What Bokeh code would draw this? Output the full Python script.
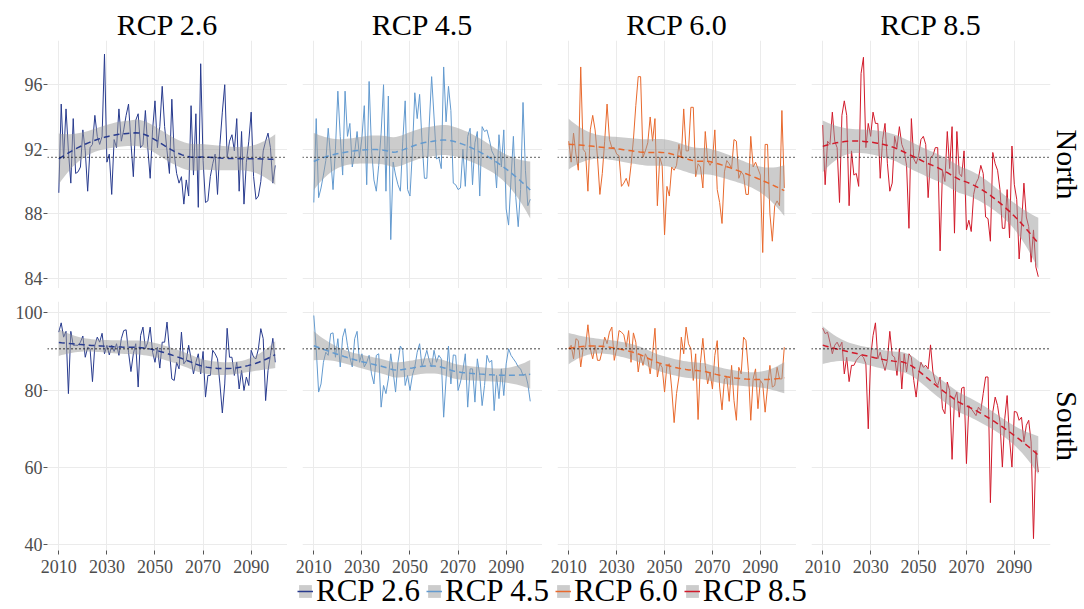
import numpy as np
from bokeh.plotting import figure
from bokeh.layouts import column, row
from bokeh.models import Range1d, FixedTicker, Title, Legend, LegendItem, Span
from bokeh.embed import file_html
from bokeh.resources import INLINE

FONT = "Liberation Serif"

# ---------------- data ----------------
years = list(range(2010, 2101))
scenarios = ["RCP 2.6", "RCP 4.5", "RCP 6.0", "RCP 8.5"]
colors = ["#283B8E", "#639ACF", "#E8692D", "#D11A2A"]
regions = ["North", "South"]
reference_levels = [91.5, 90.7]
x_ticks = [2010, 2030, 2050, 2070, 2090]
y_ticks_north = [84, 88, 92, 96]
y_ticks_south = [40, 60, 80, 100]

north_26 = [89.3, 94.8, 91.4, 94.5, 91.9, 89.9, 93.9, 90.5, 90.6, 90.9,
            93.2, 91.9, 89.4, 92.1, 92.3, 94.1, 92.8, 92.3, 92.8, 97.9,
            91.2, 91.7, 89.2, 92.6, 92.1, 94.5, 92.5, 93.2, 94.1, 94.8,
            92.4, 90.3, 93.8, 94.2, 92.1, 92.3, 94.4, 92.1, 90.2, 93.2,
            95.0, 92.1, 93.4, 95.9, 93.4, 91.9, 90.5, 95.1, 91.7, 90.5,
            89.9, 90.3, 88.6, 90.1, 89.1, 94.7, 90.4, 94.2, 88.4, 97.3,
            91.3, 88.7, 88.8, 90.3, 91.1, 91.7, 89.2, 92.3, 94.3, 96.0,
            91.5, 92.5, 92.9, 91.9, 93.9, 89.4, 93.1, 88.6, 91.2, 92.5,
            94.3, 90.3, 88.9, 89.1, 90.0, 91.9, 92.5, 93.0, 92.1, 89.9,
            91.0]
north_45 = [88.7, 93.9, 89.0, 89.6, 90.4, 91.3, 93.3, 91.5, 89.5, 92.0,
            95.6, 92.8, 90.4, 95.6, 92.8, 93.6, 90.9, 91.8, 93.1, 91.5,
            92.7, 94.7, 89.8, 96.2, 92.0, 90.1, 89.4, 91.0, 93.0, 96.0,
            89.4, 95.3, 86.4, 91.2, 90.4, 89.8, 89.4, 92.5, 95.0, 89.5,
            89.1, 91.9, 95.5, 93.9, 95.4, 92.5, 90.2, 90.2, 93.5, 96.5,
            94.0, 91.4, 91.5, 90.8, 97.1, 93.7, 95.9, 94.4, 89.9, 89.8,
            89.5, 89.6, 92.0, 89.7, 92.8, 93.3, 89.8, 92.4, 93.1, 89.1,
            93.4, 93.1, 93.2, 92.6, 91.9, 91.6, 89.6, 92.9, 90.9, 93.2,
            88.3, 87.3, 90.1, 92.8, 89.0, 87.2, 89.5, 94.9, 90.7, 88.5,
            88.9]
north_60 = [92.5, 91.2, 93.0, 91.7, 90.7, 97.1, 92.0, 91.8, 89.4, 93.2,
            94.1, 93.2, 91.5, 89.2, 90.5, 92.5, 94.8, 92.6, 92.1, 92.1,
            91.7, 91.6, 89.7, 89.9, 90.2, 89.7, 91.0, 92.6, 94.7, 96.5,
            96.5, 91.5, 91.9, 92.4, 94.0, 92.5, 93.9, 88.5, 91.5, 91.0,
            86.7, 89.7, 89.1, 90.9, 90.7, 91.0, 92.3, 91.5, 94.5, 91.9,
            91.9, 94.6, 94.6, 90.3, 91.1, 90.9, 89.6, 93.1, 91.3, 91.0,
            91.3, 93.2, 89.5, 88.7, 87.4, 90.6, 91.3, 91.1, 90.8, 92.6,
            92.5, 90.2, 90.6, 90.4, 89.2, 89.2, 92.8, 90.9, 91.2, 90.8,
            90.4, 85.6, 92.3, 92.3, 88.0, 86.3, 88.5, 88.8, 88.5, 94.4,
            89.6]
north_85 = [93.5, 89.8, 92.5, 92.3, 94.3, 92.5, 92.1, 88.7, 94.1, 95.0,
            94.1, 88.5, 91.9, 90.4, 90.5, 89.7, 96.7, 97.7, 92.1, 93.6,
            92.8, 94.3, 93.6, 93.6, 90.2, 92.6, 93.6, 91.1, 89.4, 89.9,
            92.8, 92.1, 93.4, 92.3, 91.9, 91.0, 87.1, 93.9, 91.4, 91.1,
            91.6, 92.6, 92.8, 92.3, 89.0, 91.5, 91.6, 92.1, 92.1, 85.7,
            90.7, 90.0, 93.1, 90.8, 93.4, 86.8, 93.1, 90.5, 90.3, 91.9,
            87.0, 87.6, 86.9, 89.2, 89.9, 90.2, 91.0, 90.5, 87.8, 87.7,
            86.3, 91.8, 91.1, 90.7, 89.5, 87.1, 87.1, 89.5, 86.5, 92.2,
            89.8, 88.9, 85.2, 87.3, 89.9, 87.8, 87.2, 85.0, 87.0, 84.7,
            84.1]
south_26 = [95.0, 97.4, 93.7, 95.2, 79.1, 95.2, 91.6, 91.6, 91.6, 92.4,
            94.0, 88.5, 91.1, 90.7, 82.2, 91.6, 93.7, 92.4, 94.7, 89.4,
            91.6, 89.1, 91.6, 90.0, 92.0, 89.0, 93.3, 95.4, 95.6, 89.8,
            84.8, 89.4, 92.0, 80.8, 94.1, 96.3, 90.7, 92.4, 96.3, 89.8,
            87.2, 91.1, 85.7, 92.4, 92.4, 97.6, 90.3, 82.9, 82.5, 87.2,
            85.5, 95.0, 86.8, 87.7, 91.6, 88.1, 84.2, 87.2, 89.4, 84.2,
            90.0, 78.2, 83.8, 83.8, 90.3, 89.4, 88.1, 81.6, 74.1, 81.6,
            96.0, 88.5, 88.5, 83.8, 87.2, 80.3, 85.1, 79.9, 83.4, 81.2,
            90.3, 88.5, 88.1, 90.7, 95.9, 93.3, 77.3, 85.1, 89.0, 93.4,
            87.2]
south_45 = [99.3, 90.7, 79.5, 81.6, 87.2, 89.8, 89.0, 94.6, 94.8, 88.5,
            93.3, 86.0, 93.7, 95.9, 91.6, 88.5, 86.0, 93.3, 95.2, 87.2,
            89.4, 86.0, 87.2, 89.0, 84.2, 81.6, 89.0, 89.4, 75.6, 81.2,
            79.1, 82.9, 89.4, 84.7, 79.5, 87.2, 91.4, 90.3, 81.2, 83.8,
            79.9, 83.8, 86.0, 89.8, 92.0, 86.0, 88.1, 90.3, 87.7, 86.0,
            90.3, 87.2, 89.0, 88.1, 73.0, 82.9, 91.4, 81.6, 89.1, 89.0,
            79.9, 82.1, 85.1, 89.4, 75.6, 85.5, 85.5, 76.9, 88.1, 83.8,
            76.0, 81.2, 89.0, 87.2, 87.7, 74.7, 83.8, 77.8, 85.5, 78.6,
            86.8, 90.7, 89.0, 88.1, 87.2, 86.0, 85.5, 83.8, 84.2, 81.6,
            77.1]
south_60 = [90.7, 91.6, 88.1, 93.3, 92.8, 86.0, 90.7, 91.1, 96.9, 90.7,
            88.1, 91.6, 87.7, 87.7, 90.3, 93.7, 92.0, 95.0, 96.3, 87.7,
            90.7, 95.4, 95.0, 94.3, 91.1, 95.4, 87.2, 94.8, 92.4, 84.7,
            89.0, 86.4, 89.4, 88.1, 84.2, 89.4, 96.0, 83.4, 86.8, 85.9,
            79.5, 86.4, 86.8, 80.3, 71.6, 79.1, 83.4, 93.7, 89.4, 96.3,
            92.0, 90.7, 82.5, 89.4, 72.4, 87.2, 93.4, 86.4, 81.6, 84.7,
            80.3, 89.0, 92.8, 80.8, 74.9, 82.9, 83.4, 77.1, 86.4, 77.3,
            72.2, 85.9, 84.2, 93.7, 92.8, 85.1, 72.2, 82.9, 85.5, 75.2,
            82.5, 81.6, 74.3, 80.8, 86.4, 80.8, 81.2, 85.9, 82.9, 82.9,
            91.1]
south_85 = [96.0, 94.6, 95.0, 92.4, 89.4, 91.6, 92.4, 91.1, 92.4, 84.2,
            88.5, 82.2, 86.4, 86.4, 87.7, 88.5, 89.1, 88.5, 86.8, 70.0,
            88.5, 94.1, 97.4, 88.1, 89.8, 87.2, 85.1, 87.7, 95.2, 89.0,
            88.5, 83.8, 90.7, 80.3, 89.4, 84.7, 89.4, 88.5, 82.5, 78.2,
            84.2, 87.2, 85.9, 86.4, 85.5, 91.7, 84.7, 82.1, 81.2, 83.4,
            75.2, 73.9, 82.1, 79.9, 62.1, 77.8, 79.5, 73.0, 80.5, 80.8,
            61.0, 76.0, 75.2, 74.3, 73.4, 75.6, 74.7, 79.1, 83.4, 83.4,
            50.9, 74.3, 78.2, 76.0, 71.7, 60.1, 72.6, 78.6, 67.4, 60.1,
            74.5, 74.3, 72.2, 73.0, 66.6, 70.9, 72.2, 66.6, 41.6, 64.4,
            58.8]

series = [[north_26, north_45, north_60, north_85],
          [south_26, south_45, south_60, south_85]]
y_ticks = [y_ticks_north, y_ticks_south]


# ---------------- loess smooth (like ggplot geom_smooth) ----------------
def loess_band(x, y, x_out, span=0.75, t_crit=1.99):
    x = np.asarray(x, float)
    y = np.asarray(y, float)
    c = x.mean()
    xc = x - c
    xo = np.asarray(x_out, float) - c
    n = len(xc)
    q = int(np.floor(n * span))

    def op_row(x0):
        d = np.abs(xc - x0)
        h = np.sort(d)[q - 1]
        u = np.clip(d / h, 0, 1)
        w = (1 - u ** 3) ** 3
        X = np.column_stack([np.ones(n), xc - x0, (xc - x0) ** 2])
        XtW = X.T * w
        return np.linalg.solve(XtW @ X, XtW)[0]

    L = np.array([op_row(v) for v in xc])
    R = np.eye(n) - L
    d1 = np.trace(R.T @ R)
    sigma = np.sqrt(np.sum((R @ y) ** 2) / d1)
    Lo = np.array([op_row(v) for v in xo])
    fit = Lo @ y
    se = sigma * np.sqrt(np.sum(Lo ** 2, axis=1))
    return fit, fit - t_crit * se, fit + t_crit * se


x_grid = np.linspace(min(years), max(years), 80)

# ---------------- layout geometry ----------------
frame_w = [240, 240, 239, 239]
border_l = [47, 15, 15, 15]
frame_h = [248, 249]
border_t = [40, 13]
border_b = [0, 30]
y_limits = [(83.37, 98.74), (38.53, 102.92)]
x_limits = (2005.3, 2105.1)

GRID = "#EBEBEB"
TXT = "#4D4D4D"

rows = []
for r in range(2):
    figs = []
    for c in range(4):
        p = figure(frame_width=frame_w[c], frame_height=frame_h[r],
                   x_range=Range1d(*x_limits), y_range=Range1d(*y_limits[r]),
                   x_axis_location="below" if r == 1 else None,
                   y_axis_location="left" if c == 0 else None,
                   output_backend="svg", toolbar_location=None,
                   min_border_left=border_l[c], min_border_right=34 if c == 3 else 0,
                   min_border_top=border_t[r], min_border_bottom=border_b[r],
                   title=None)
        p.outline_line_color = None
        p.background_fill_color = "white"
        p.border_fill_color = "white"
        p.xgrid.ticker = FixedTicker(ticks=x_ticks)
        p.ygrid.ticker = FixedTicker(ticks=y_ticks[r])
        for g in (p.xgrid, p.ygrid):
            g.grid_line_color = GRID
            g.grid_line_width = 1
        for ax in p.axis:
            ax.axis_line_color = None
            ax.major_tick_line_color = "#555555"
            ax.major_tick_in = 0
            ax.major_tick_out = 4
            ax.minor_tick_line_color = None
            ax.major_label_text_font = FONT
            ax.major_label_text_font_size = "18px"
            ax.major_label_text_color = TXT
            ax.major_label_standoff = 1
        if r == 1:
            p.xaxis.ticker = FixedTicker(ticks=x_ticks)
            p.xaxis.major_label_standoff = 5
        if c == 0:
            p.yaxis.ticker = FixedTicker(ticks=y_ticks[r])

        vals = series[r][c]
        col = colors[c]
        p.line(years, vals, line_color=col, line_width=1)
        fit, lo, hi = loess_band(years, vals, x_grid)
        p.varea(x=x_grid, y1=lo, y2=hi, fill_color="#999999", fill_alpha=0.5)
        p.line(x_grid, fit, line_color=col, line_width=1.5, line_dash="6 4")
        p.add_layout(Span(location=reference_levels[r], dimension="width",
                          line_color="black", line_width=1.3, line_dash="1 3"))

        if r == 0:
            p.add_layout(Title(text=scenarios[c], align="center", text_font=FONT,
                               text_font_size="30px", text_font_style="normal",
                               text_color="black", standoff=0), "above")
        if c == 3:
            p.add_layout(Title(text=regions[r], align="center", text_font=FONT,
                               text_font_size="30px", text_font_style="normal",
                               text_color="black", standoff=0), "right")
        figs.append(p)
    rows.append(row(*figs, spacing=0))

# ---------------- legend strip ----------------
lf = figure(width=1084, height=35, x_range=Range1d(0, 1), y_range=Range1d(0, 1),
            x_axis_location=None, y_axis_location=None, output_backend="svg",
            toolbar_location=None, min_border=0, title=None, margin=(-6, 0, 0, 0))
lf.outline_line_color = None
lf.border_fill_alpha = 0
lf.background_fill_alpha = 0
lf.xgrid.visible = False
lf.ygrid.visible = False
items = []
for name, col in zip(scenarios, colors):
    # key-only renderers: their data sit outside the legend strip's ranges
    ra = lf.varea(x=[5, 6], y1=[5, 5], y2=[6, 6], fill_color="#999999", fill_alpha=0.5)
    rl = lf.line(x=[5, 6], y=[5, 5], line_color=col, line_width=1.5)
    items.append(LegendItem(label=name, renderers=[ra, rl]))
leg = Legend(items=items, orientation="horizontal", location=(297, 0),
             glyph_width=16, glyph_height=16, label_standoff=3, spacing=6,
             padding=0, margin=0, border_line_color=None, background_fill_alpha=0,
             label_text_font=FONT, label_text_font_size="31px", label_text_color="black")
lf.add_layout(leg, "center")

layout = column(rows[0], rows[1], lf, spacing=0)

with open("out.html", "w") as f:
    f.write(file_html(layout, INLINE))
